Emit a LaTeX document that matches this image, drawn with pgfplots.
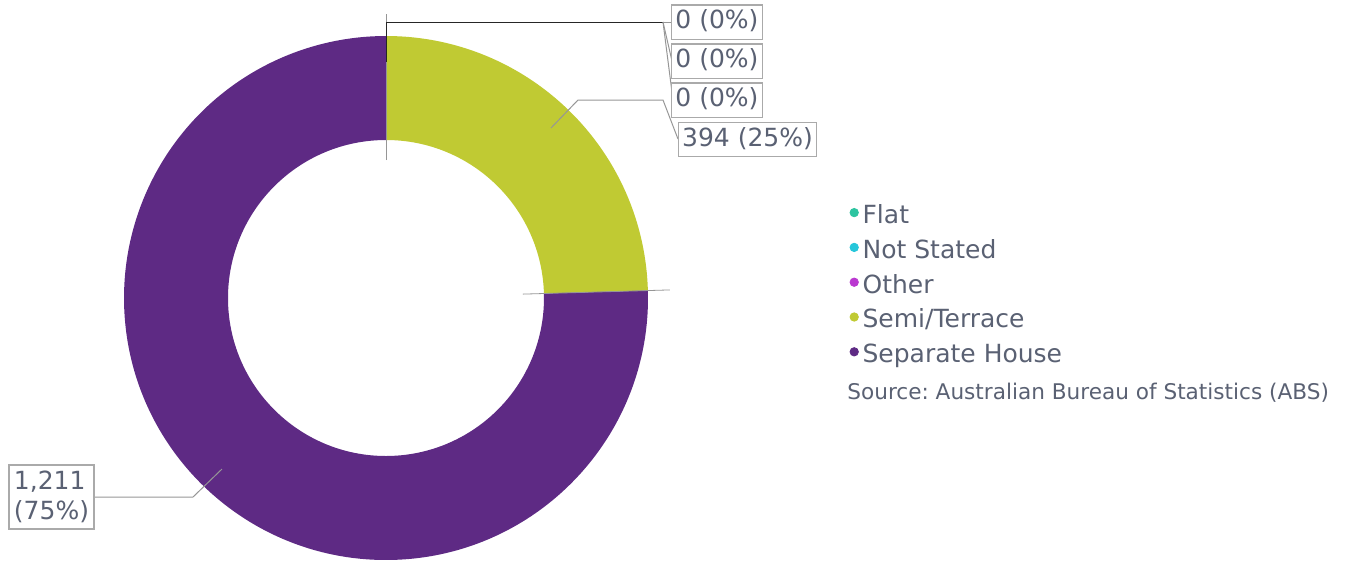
\documentclass[border=0pt]{standalone}
\usepackage{pgfplots}
\pgfplotsset{compat=1.18}
\usepackage{fontspec}
\setmainfont{DejaVu Sans}
\frenchspacing
\definecolor{txt}{RGB}{90,97,115}
\definecolor{cflat}{RGB}{45,196,160}
\definecolor{cns}{RGB}{38,198,218}
\definecolor{cother}{RGB}{186,56,208}
\definecolor{csemi}{RGB}{192,202,51}
\definecolor{csep}{RGB}{94,42,132}
\definecolor{bx}{RGB}{170,170,170}
\definecolor{ln}{RGB}{150,150,150}
\begin{document}
\begin{tikzpicture}
\def\vFlat{0}\def\vNS{0}\def\vOther{0}\def\vSemi{394}\def\vSep{1211}
\pgfmathsetmacro\tot{\vFlat+\vNS+\vOther+\vSemi+\vSep}
\pgfmathsetmacro\aSemi{90-360*((\vFlat+\vNS+\vOther+\vSemi)/\tot)}
\pgfmathsetmacro\aSep{\aSemi-360*(\vSep/\tot)}
\begin{axis}[x=0.5pt,y=0.5pt,y dir=reverse,
  xmin=0,xmax=1351,ymin=0,ymax=564,
  hide axis, clip=false, scale only axis,
  legend cell align=left,
  legend image code/.code={\fill[#1] (2.2pt,1.9pt) circle (2.1pt); \path (0pt,0pt) (6.2pt,0pt);},
  legend style={at={(axis cs:849,204)}, anchor=north west, draw=none, fill=none,
    font=\fontsize{12.5}{15}\selectfont, text=txt, inner sep=0pt, row sep=5.4pt,
    nodes={inner sep=0pt, text height=9.5pt, text depth=2.5pt},
    /tikz/every even column/.style={column sep=0pt}}]
\path (axis cs:0,0) (axis cs:1351,564);
\addlegendimage{cflat}\addlegendentry{Flat}
\addlegendimage{cns}\addlegendentry{Not Stated}
\addlegendimage{cother}\addlegendentry{Other}
\addlegendimage{csemi}\addlegendentry{Semi/Terrace}
\addlegendimage{csep}\addlegendentry{Separate House}
% donut sectors
\fill[csemi] (axis cs:386,298) ++(90:131pt) arc[start angle=90,end angle=\aSemi,radius=131pt]
  -- ++(\aSemi+180:52pt) arc[start angle=\aSemi,end angle=90,radius=79pt] -- cycle;
\fill[csep] (axis cs:386,298) ++(\aSemi:131pt) arc[start angle=\aSemi,end angle=\aSep,radius=131pt]
  -- ++(\aSep+180:52pt) arc[start angle=\aSep,end angle=\aSemi,radius=79pt] -- cycle;
% boundary lines
\draw[ln,line width=0.4pt] (axis cs:386,298) ++(90:69pt) -- ++(90:73pt);
\draw[ln,line width=0.4pt] (axis cs:386,298) ++(\aSemi:68.5pt) -- ++(\aSemi:73.5pt);
% leaders
\draw[black!85,line width=0.5pt] (axis cs:386,62) -- (axis cs:386,22) -- (axis cs:663,22);
\draw[ln,line width=0.5pt] (axis cs:663,22) -- (axis cs:672,22);
\draw[ln,line width=0.5pt] (axis cs:663,22) -- (axis cs:672,61);
\draw[ln,line width=0.5pt] (axis cs:663,22) -- (axis cs:673,100);
\draw[ln,line width=0.5pt] (axis cs:551,128) -- (axis cs:578,100) -- (axis cs:663,100) -- (axis cs:678,139);
\draw[ln,line width=0.5pt] (axis cs:222,469) -- (axis cs:193,497) -- (axis cs:95,497);
% labels
\tikzset{lab/.style={draw=bx, fill=white, text=txt, line width=0.6pt, font=\fontsize{12.5}{15}\selectfont,
  inner xsep=1.8pt, inner ysep=2.5pt, text height=9.5pt, text depth=2.6pt}}
\node[lab] at (axis cs:717,22) {0 (0\%)};
\node[lab] at (axis cs:717,61) {0 (0\%)};
\node[lab] at (axis cs:717,100) {0 (0\%)};
\node[lab] at (axis cs:747.5,139.5) {394 (25\%)};
\node[draw=bx, fill=white, text=txt, line width=0.6pt, font=\fontsize{12.5}{15}\selectfont, align=left,
  inner xsep=2.5pt, inner ysep=3pt] at (axis cs:51.5,497) {1,211\\(75\%)};
\node[anchor=base west, text=txt, font=\fontsize{10.8}{13}\selectfont, inner sep=0pt] at (axis cs:847,399) {Source: Australian Bureau of Statistics (ABS)};
\end{axis}
\end{tikzpicture}
\end{document}
